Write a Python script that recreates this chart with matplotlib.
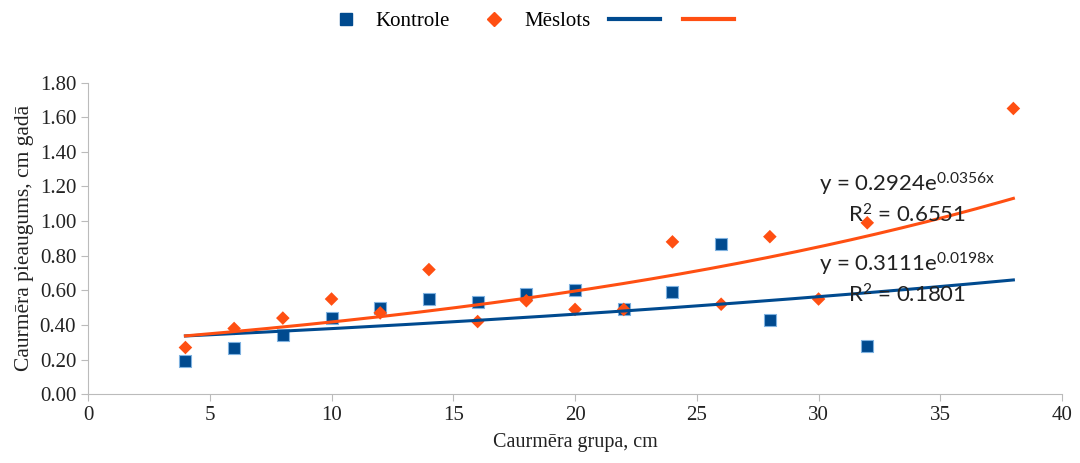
import numpy as np
import matplotlib
matplotlib.use("Agg")
import matplotlib.pyplot as plt
from matplotlib.lines import Line2D

# Kontrole (control) group
kontrole_x = [4, 6, 8, 10, 12, 14, 16, 18, 20, 22, 24, 26, 28, 32]
kontrole_y = [0.19, 0.27, 0.34, 0.44, 0.50, 0.55, 0.53, 0.58, 0.60, 0.49, 0.59, 0.87, 0.43, 0.28]

# Mēslots (fertilised) group
meslots_x = [4, 6, 8, 10, 12, 14, 16, 18, 20, 22, 24, 26, 28, 30, 32, 38]
meslots_y = [0.27, 0.38, 0.44, 0.55, 0.47, 0.72, 0.42, 0.54, 0.49, 0.49, 0.88, 0.52, 0.91, 0.55, 0.99, 1.65]

# exponential trendlines y = a*e^(b*x), plus R^2
kontrole_fit = (0.3111, 0.0198, 0.1801)
meslots_fit = (0.2924, 0.0356, 0.6551)

blue = "#004A8F"
orange = "#FF4F12"
txt = "#222222"

plt.rcParams["font.family"] = ["Liberation Serif", "DejaVu Serif"]
plt.rcParams["mathtext.default"] = "regular"

fig = plt.figure(figsize=(10.8, 4.63), dpi=100)
ax = fig.add_axes([0.0815, 0.1484, 0.9019, 0.6734])

ax.scatter(kontrole_x, kontrole_y, marker="s", s=80, color=blue,
           edgecolors="#7FB2E0", linewidths=0.8, zorder=3)
ax.scatter(meslots_x, meslots_y, marker="D", s=48, color=orange,
           edgecolors="none", zorder=3)

xs = np.linspace(4, 38, 200)
a, b, r2 = kontrole_fit
ax.plot(xs, a * np.exp(b * xs), color=blue, lw=2.2, zorder=4)
a2, b2, r22 = meslots_fit
ax.plot(xs, a2 * np.exp(b2 * xs), color=orange, lw=2.2, zorder=4)

eq_font = dict(family=["Lato", "DejaVu Sans"], fontsize=16, color=txt,
               va="center", zorder=5)
ax.text(30.0, 1.21, f"y = {a2:.4f}e$^{{{b2:.4f}x}}$", **eq_font)
ax.text(31.2, 1.035, f"R$^2$ = {r22:.4f}", **eq_font)
ax.text(30.0, 0.75, f"y = {a:.4f}e$^{{{b:.4f}x}}$", **eq_font)
ax.text(31.2, 0.575, f"R$^2$ = {r2:.4f}", **eq_font)

ax.set_xlim(0, 40)
ax.set_ylim(0, 1.8)
ax.set_xticks(range(0, 41, 5))
ax.set_yticks(np.arange(0, 1.81, 0.2))
ax.set_yticklabels([f"{v:.2f}" for v in np.arange(0, 1.81, 0.2)])
ax.tick_params(labelsize=15, colors=txt, length=5, color="#BBBBBB")
for s in ["top", "right"]:
    ax.spines[s].set_visible(False)
for s in ["left", "bottom"]:
    ax.spines[s].set_color("#BBBBBB")

ax.set_xlabel("Caurmēra grupa, cm", fontsize=14.5, color=txt, labelpad=6)
ax.set_ylabel("Caurmēra pieaugums, cm gadā", fontsize=15.5, color=txt, labelpad=4)

handles = [
    Line2D([], [], marker="s", ls="none", color=blue, markersize=8),
    Line2D([], [], marker="D", ls="none", color=orange, markersize=7),
    Line2D([], [], color=blue, lw=3),
    Line2D([], [], color=orange, lw=3),
]
fig.legend(handles, ["Kontrole", "Mēslots", "", ""], loc="upper center",
           bbox_to_anchor=(0.49, 1.015), ncol=4, frameon=False, fontsize=15,
           handlelength=2.45, handletextpad=0.2, columnspacing=0.9)

fig.savefig("out.png", dpi=100)
